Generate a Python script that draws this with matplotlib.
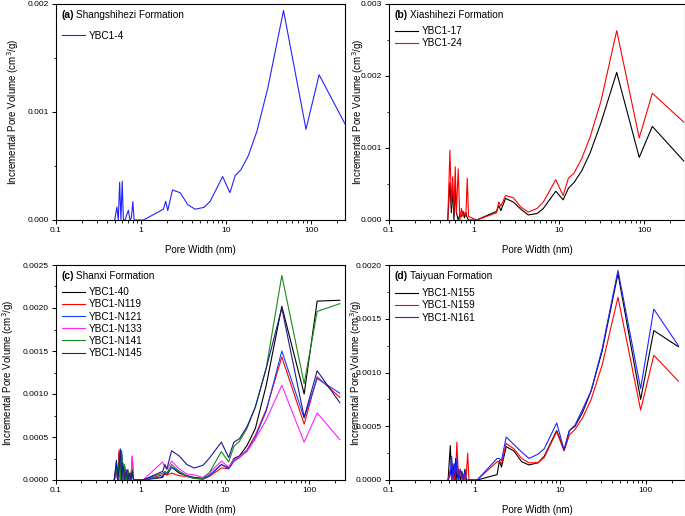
import matplotlib.pyplot as plt
from matplotlib.ticker import FixedLocator, MultipleLocator, FormatStrFormatter, LogLocator, NullFormatter

plt.rcParams['font.family'] = ['Liberation Sans', 'DejaVu Sans']

# pore width grids (nm)
micro_w = [0.49, 0.52, 0.54, 0.56, 0.58, 0.60, 0.62, 0.65, 0.68, 0.71, 0.74, 0.77, 0.80, 0.83, 0.86]
meso_w = [1.07, 1.83, 1.95, 2.06, 2.34, 2.88, 3.54, 4.32, 5.5, 6.5, 9.1, 11.1, 12.8, 14.9,
          18.3, 23, 30.9, 47.3, 87, 124]
tail_w = {'a': 250, 'b': 290, 'c': 230, 'd': 240}

# (a) Shangshihezi
a_4_mi = [0, 0.00012, 0, 0.00035, 0, 0.00036, 0, 0, 0.00005, 0.00009, 0, 0.00002, 0.00017, 0, 0]
a_4_me = [0, 0.0001, 0.000173, 0.000087, 0.000278, 0.000253, 0.000142, 0.0001, 0.000117, 0.000173,
          0.000402, 0.000253, 0.000411, 0.000464, 0.000597, 0.00082, 0.00122, 0.00194, 0.00084, 0.001345, 0.00089]

# (b) Xiashihezi
b_17_mi = [0, 0.00052, 0.0001, 0.00042, 0, 0.00047, 0.0001, 0, 0.00008, 0.00005, 0.00012, 0.00003, 0.0001, 0.00003, 0]
b_17_me = [0, 0.00012, 0.0002, 0.00013, 0.0003, 0.00025, 0.00015, 0.00007, 0.00009, 0.00016,
           0.0004, 0.00028, 0.00044, 0.00052, 0.00068, 0.00093, 0.00135, 0.00205, 0.00087, 0.0013, 0.00082]
b_24_mi = [0, 0.00097, 0.0002, 0.0006, 0.0001, 0.00074, 0.0001, 0.00071, 0, 0.00016, 0.00005, 0.0001, 0.00005, 0.00058, 0.00005]
b_24_me = [0, 0.0001, 0.00025, 0.00019, 0.00034, 0.00031, 0.00018, 0.00011, 0.00016, 0.00025,
           0.00056, 0.00034, 0.00058, 0.00065, 0.00085, 0.00115, 0.00165, 0.00263, 0.00114, 0.00176, 0.00136]

# (c) Shanxi
c_40_mi = [0, 0.0002, 0, 0.00032, 0, 0.0003, 0, 0.00015, 0, 0.00012, 0, 0.00008, 0.0001, 0, 0]
c_40_me = [0, 0.00003, 0.00008, 0.00006, 0.00015, 0.00008, 0.00005, 0.00003, 0.00002, 0.00005,
           0.00018, 0.00014, 0.00025, 0.00028, 0.0004, 0.0006, 0.0011, 0.00202, 0.001, 0.00208, 0.00209]
c_119_mi = [0, 0.0001, 0, 0.00035, 0, 0.0002, 0, 0.0001, 0, 0.00006, 0, 0, 0.00027, 0, 0]
c_119_me = [0, 0.00006, 0.00007, 0.00006, 0.00008, 0.00005, 0.00004, 0.00002, 0.00001, 0.00004,
            0.00014, 0.00013, 0.00022, 0.00027, 0.00035, 0.00052, 0.00082, 0.00143, 0.00065, 0.0012, 0.00096]
c_121_mi = [0, 0.00015, 0, 0.0002, 0, 0.00034, 0, 0, 0.00012, 0, 0.00005, 0, 0.0001, 0, 0]
c_121_me = [0, 0.00004, 0.0001, 0.00008, 0.00015, 0.0001, 0.00005, 0.00002, 0.00001, 0.00005,
            0.00018, 0.00013, 0.00022, 0.00026, 0.00034, 0.0005, 0.0008, 0.0015, 0.00072, 0.00118, 0.00101]
c_133_mi = [0, 0.00005, 0, 0.00012, 0, 0.0001, 0, 0.00005, 0, 0.00008, 0, 0, 0.00028, 0, 0]
c_133_me = [0, 0.00021, 0.00015, 0.00012, 0.00022, 0.00013, 0.00007, 0.00006, 0.00003, 0.00008,
            0.00022, 0.00015, 0.00024, 0.00027, 0.00033, 0.00048, 0.0007, 0.0011, 0.00044, 0.00078, 0.00047]
c_141_mi = [0, 0.00012, 0, 0.00025, 0, 0.0003, 0, 0.00018, 0, 0.0001, 0, 0.00005, 0.00012, 0, 0]
c_141_me = [0, 0.00008, 0.0001, 0.00008, 0.00018, 0.0001, 0.00004, 0.00002, 0.00002, 0.00008,
            0.00033, 0.00021, 0.00039, 0.00045, 0.0006, 0.00085, 0.0013, 0.00238, 0.00112, 0.00196, 0.00205]
c_145_mi = [0, 0.00023, 0, 0.00015, 0.00036, 0, 0.0002, 0, 0.0001, 0, 0.00008, 0, 0.0001, 0, 0]
c_145_me = [0, 0.0001, 0.00018, 0.00013, 0.00034, 0.00028, 0.00018, 0.00014, 0.00017, 0.00025,
            0.00044, 0.00026, 0.00044, 0.00048, 0.00062, 0.00085, 0.0013, 0.002, 0.00073, 0.00127, 0.0009]

# (d) Taiyuan
d_155_mi = [0, 0.00032, 0, 0.00015, 0, 0.0002, 0, 0.0001, 0, 0.00008, 0, 0.0001, 0, 0, 0]
d_155_me = [0, 0.00005, 0.00018, 0.00012, 0.00031, 0.00027, 0.00017, 0.00014, 0.00016, 0.00022,
            0.00046, 0.00028, 0.00046, 0.0005, 0.00063, 0.00083, 0.0012, 0.00192, 0.00075, 0.00139, 0.00124]
d_159_mi = [0, 0.0001, 0, 0.0001, 0, 0.00005, 0.00035, 0, 0.0001, 0, 0.00005, 0, 0.00005, 0.00025, 0]
d_159_me = [0, 0.00017, 0.00017, 0.00015, 0.00034, 0.00029, 0.0002, 0.00016, 0.00016, 0.00021,
            0.00045, 0.00027, 0.00042, 0.00047, 0.00058, 0.00075, 0.00107, 0.0017, 0.00065, 0.00116, 0.00092]
d_161_mi = [0, 0.00005, 0.00022, 0, 0.00015, 0, 0.0002, 0, 0.0001, 0.00005, 0, 0.00008, 0, 0, 0]
d_161_me = [0, 0.0002, 0.0002, 0.00018, 0.0004, 0.00033, 0.00026, 0.0002, 0.00024, 0.00029,
            0.00053, 0.00028, 0.00046, 0.00051, 0.00066, 0.00083, 0.00122, 0.00195, 0.00085, 0.00159, 0.00125]

panels = [
    ('a', 'Shangshihezi Formation', [('YBC1-4', a_4_mi, a_4_me, '#2222ff')],
     250, 0.002, 0.001, '%.3f'),
    ('b', 'Xiashihezi Formation', [('YBC1-17', b_17_mi, b_17_me, 'black'),
                                   ('YBC1-24', b_24_mi, b_24_me, 'red')],
     300, 0.003, 0.001, '%.3f'),
    ('c', 'Shanxi Formation', [('YBC1-40', c_40_mi, c_40_me, 'black'),
                               ('YBC1-N119', c_119_mi, c_119_me, 'red'),
                               ('YBC1-N121', c_121_mi, c_121_me, '#1f3fff'),
                               ('YBC1-N133', c_133_mi, c_133_me, '#ff22ff'),
                               ('YBC1-N141', c_141_mi, c_141_me, '#1a8a1a'),
                               ('YBC1-N145', c_145_mi, c_145_me, '#1c1c8c')],
     265, 0.0025, 0.0005, '%.4f'),
    ('d', 'Taiyuan Formation', [('YBC1-N155', d_155_mi, d_155_me, 'black'),
                                ('YBC1-N159', d_159_mi, d_159_me, 'red'),
                                ('YBC1-N161', d_161_mi, d_161_me, '#2222ff')],
     287, 0.002, 0.0005, '%.4f'),
]

fig = plt.figure(figsize=(6.85, 5.16), dpi=100)
W, H = 685, 516
boxes = {'a': (56, 4, 345, 220), 'b': (389, 4, 685, 220),
         'c': (56, 265, 345, 480), 'd': (389, 265, 685, 480)}
ylab_x = {'a': -0.12, 'b': -0.078, 'c': -0.137, 'd': -0.085}
leg_y = {'a': 0.905, 'b': 0.925, 'c': 0.925, 'd': 0.92}

for key, title, series, xmax, ymax, ystep, fmt in panels:
    l, t, r, b = boxes[key]
    ax = fig.add_axes([l / W, 1 - b / H, (r - l) / W, (b - t) / H])
    for name, mi, me, col in series:
        xs = micro_w + meso_w + [tail_w[key]]
        ax.plot(xs, mi + me, color=col, lw=0.8, label=name)
    ax.set_xscale('log')
    ax.set_xlim(0.1, xmax)
    ax.set_ylim(0, ymax)
    ax.xaxis.set_major_locator(FixedLocator([0.1, 1, 10, 100]))
    ax.xaxis.set_major_formatter(FormatStrFormatter('%g'))
    ax.xaxis.set_minor_locator(LogLocator(base=10, subs=range(2, 10)))
    ax.xaxis.set_minor_formatter(NullFormatter())
    ax.yaxis.set_major_locator(MultipleLocator(ystep))
    ax.yaxis.set_minor_locator(MultipleLocator(ystep / 2))
    ax.yaxis.set_major_formatter(FormatStrFormatter(fmt))
    ax.tick_params(which='major', length=3, width=0.7, labelsize=6, pad=2)
    ax.tick_params(which='minor', length=1.8, width=0.6)
    for sp in ax.spines.values():
        sp.set_linewidth(0.8)
    ax.set_xlabel('Pore Width (nm)', fontsize=7)
    ax.xaxis.set_label_coords(0.5, -0.115)
    ax.set_ylabel('Incremental Pore Volume (cm$^3$/g)', fontsize=7)
    ax.yaxis.set_label_coords(ylab_x[key], 0.5)
    ax.text(0.02, 0.972, '(%s)' % key, transform=ax.transAxes, fontsize=7.5,
            fontweight='bold', va='top', ha='left')
    ax.text(0.02 + 0.05, 0.972, title, transform=ax.transAxes, fontsize=7.2,
            va='top', ha='left')
    ax.legend(loc='upper left', bbox_to_anchor=(0.0, leg_y[key]), frameon=False,
              fontsize=7.2, handlelength=2.3, handletextpad=0.35,
              labelspacing=0.22, borderaxespad=0.2)

fig.savefig('out.png', dpi=100)
